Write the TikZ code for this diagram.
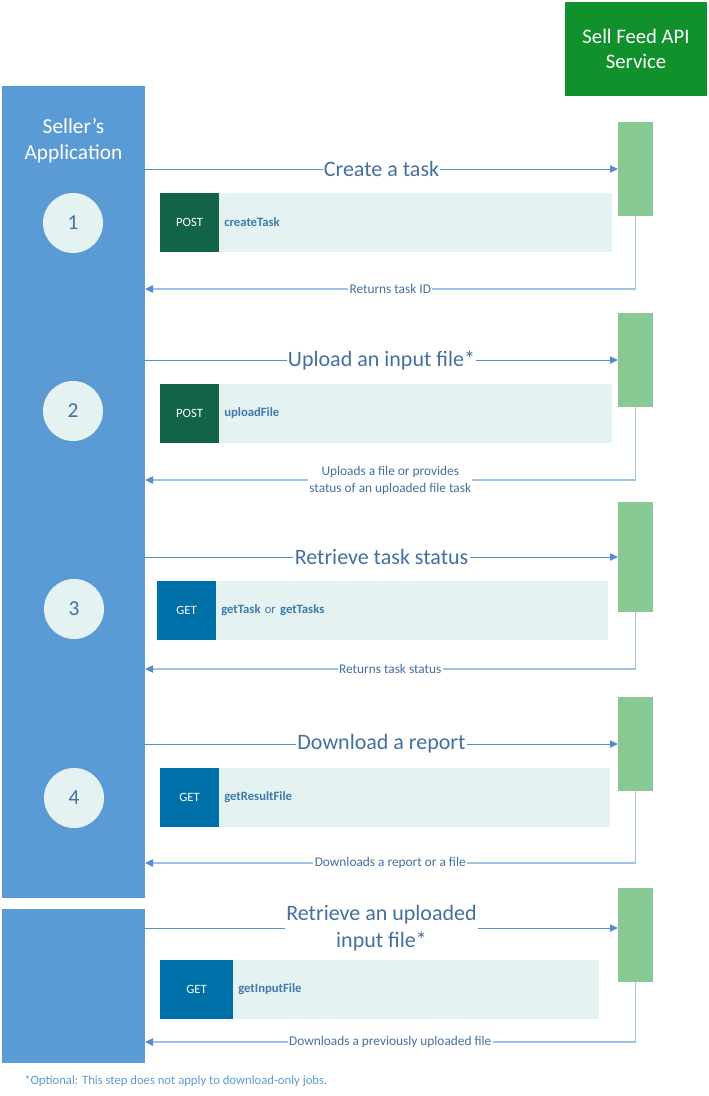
\documentclass[tikz,border=0pt]{standalone}
\usepackage{fontspec}
\setmainfont{Carlito}
\usepackage{tikz}
\usetikzlibrary{positioning,arrows.meta}
\definecolor{sellerBlue}{RGB}{91,155,213}
\definecolor{serviceGreen}{RGB}{16,145,43}
\definecolor{barGreen}{RGB}{137,201,147}
\definecolor{panelTeal}{RGB}{228,242,241}
\definecolor{postGreen}{RGB}{17,100,72}
\definecolor{getBlue}{RGB}{0,112,168}
\definecolor{titleBlue}{RGB}{68,112,160}
\definecolor{nameBlue}{RGB}{62,122,172}
\definecolor{lineBlue}{RGB}{84,141,212}
\definecolor{lineLight}{RGB}{157,195,230}
\definecolor{noteBlue}{RGB}{91,155,213}
\tikzset{
  sellerbox/.style={rectangle,fill=sellerBlue,minimum width=107.25pt,
    minimum height=#1,inner sep=0pt,outer sep=0pt},
  servicebox/.style={rectangle,fill=serviceGreen,text=white,align=center,
    minimum width=106.5pt,minimum height=70.5pt,
    font=\fontsize{15.5}{19}\selectfont},
  actbar/.style={rectangle,fill=barGreen,minimum width=26.25pt,
    minimum height=#1,outer sep=0pt},
  actbar/.default=70.5pt,
  stepcircle/.style={circle,fill=panelTeal,text=titleBlue,minimum size=45pt,
    inner sep=0pt,font=\fontsize{16}{19}\selectfont},
  methodbox/.style={rectangle,fill=#1,text=white,minimum width=44.25pt,
    minimum height=44.25pt,inner sep=0pt,outer sep=0pt,
    font=\fontsize{9.5}{11}\selectfont},
  methodpanel/.style={rectangle,fill=panelTeal,text=nameBlue,
    minimum height=44.25pt,text width=#1,align=left,inner sep=4pt,
    outer sep=0pt,font=\fontsize{9.5}{11}\selectfont\bfseries},
  reqarrow/.style={-{Triangle[length=6pt,width=5.5pt]},draw=lineBlue,
    line width=0.75pt},
  retarrow/.style={-{Triangle[length=6pt,width=5.5pt,color=lineBlue]},
    draw=lineLight,line width=1pt},
  reqlabel/.style={fill=white,text=titleBlue,inner sep=1pt,align=center,
    font=\fontsize{16.5}{20}\selectfont},
  retlabel/.style={fill=white,text=titleBlue,inner sep=1pt,align=center,
    font=\fontsize{10}{12.75}\selectfont}
}
\begin{document}
\begin{tikzpicture}[x=0.75pt,y=-0.75pt]
  \useasboundingbox (0,0) rectangle (709,1096);
  % lifelines
  \node[sellerbox=609pt] (seller) at (73.5,492) {};
  \node[sellerbox=115.5pt] (seller2) at (73.5,986) {};
  \node[text=white,align=center,font=\fontsize{16}{19.5}\selectfont]
    (sellertxt) at (73.5,141) {Seller’s\\Application};
  \node[servicebox] (service) at (636,49) {Sell Feed API\\Service};
  \node[actbar] (bar1) at (635.5,169) {};
  \node[actbar] (bar2) at (635.5,360) {};
  \node[actbar=82.5pt] (bar3) at (635.5,557) {};
  \node[actbar] (bar4) at (635.5,744) {};
  \node[actbar] (bar5) at (635.5,935) {};
  % steps
  \node[stepcircle] (s1) at (73,223) {1};
  \node[stepcircle] (s2) at (73,411) {2};
  \node[stepcircle] (s3) at (74,609) {3};
  \node[stepcircle] (s4) at (74,798) {4};
  % calls
  \node[methodbox=postGreen, anchor=west] (m1) at (160,222.5) {POST};
  \node[methodpanel=286.75pt, right=0pt of m1] (p1) {createTask};
  \node[methodbox=postGreen, anchor=west] (m2) at (160,413.5) {POST};
  \node[methodpanel=286.75pt, right=0pt of m2] (p2) {uploadFile};
  \node[methodbox=getBlue, anchor=west] (m3) at (157,610) {GET};
  \node[methodpanel=286pt, right=0pt of m3] (p3)
    {getTask \textmd{or} getTasks};
  \node[methodbox=getBlue, anchor=west] (m4) at (160,797.5) {GET};
  \node[methodpanel=285.25pt, right=0pt of m4] (p4) {getResultFile};
  \node[methodbox=getBlue, anchor=west, minimum width=54.75pt] (m5)
    at (160,989.5) {GET};
  \node[methodpanel=266.5pt, right=0pt of m5] (p5) {getInputFile};
  % requests
  \draw[reqarrow] (bar1.west -| seller.east) -- node[reqlabel]{Create a task} (bar1.west);
  \draw[reqarrow] (bar2.west -| seller.east) -- node[reqlabel]{Upload an input file*} (bar2.west);
  \draw[reqarrow] (bar3.west -| seller.east) -- node[reqlabel]{Retrieve task status} (bar3.west);
  \draw[reqarrow] (bar4.west -| seller.east) -- node[reqlabel]{Download a report} (bar4.west);
  \draw[reqarrow] ([yshift=5.25pt]bar5.west -| seller2.east) --
    node[reqlabel]{Retrieve an uploaded\\input file*} ([yshift=5.25pt]bar5.west);
  % responses
  \coordinate (ret1) at (145,289);
  \coordinate (ret2) at (145,480);
  \coordinate (ret3) at (145,669);
  \coordinate (ret4) at (145,863);
  \coordinate (ret5) at (145,1042);
  \draw[retarrow] (bar1.south) |- node[retlabel,pos=0.75]{Returns task ID} (ret1);
  \draw[retarrow] (bar2.south) |- node[retlabel,pos=0.75]
    {Uploads a file or provides\\status of an uploaded file task} (ret2);
  \draw[retarrow] (bar3.south) |- node[retlabel,pos=0.75]{Returns task status} (ret3);
  \draw[retarrow] (bar4.south) |- node[retlabel,pos=0.75]{Downloads a report or a file} (ret4);
  \draw[retarrow] (bar5.south) |- node[retlabel,pos=0.75]
    {Downloads a previously uploaded file} (ret5);
  % footnote
  \node[anchor=west,text=noteBlue,inner sep=0pt,font=\fontsize{9.5}{11}\selectfont]
    (note) at (24,1081) {*Optional: This step does not apply to download-only jobs.};
\end{tikzpicture}
\end{document}
